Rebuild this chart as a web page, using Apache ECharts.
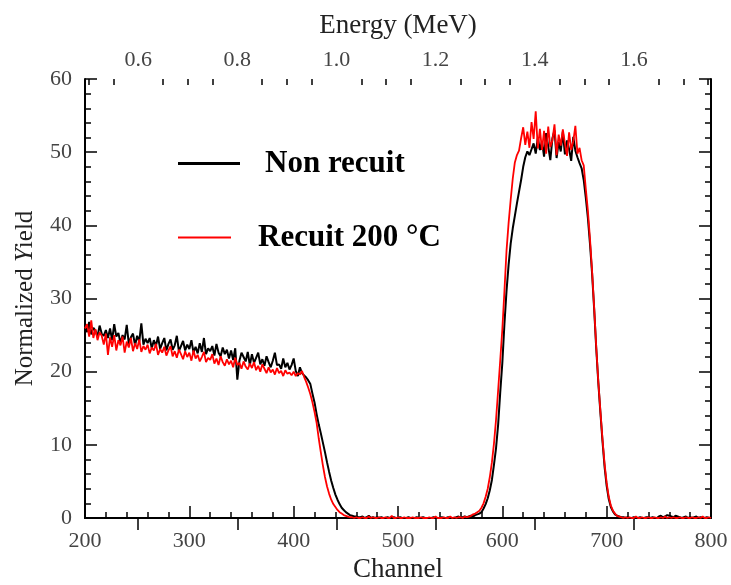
<!DOCTYPE html>
<html>
<head>
<meta charset="utf-8">
<script src="https://cdn.jsdelivr.net/npm/echarts@6/dist/echarts.min.js"></script>
<style>
html, body { margin: 0; padding: 0; background: #fff; }
#chart { width: 731px; height: 585px; }
</style>
</head>
<body>
<div id="chart"></div>
<script>
// channels 200..800, one value every 2 channels
var channelStart = 200;
var channelStep = 2;

var nonRecuit = [
    26.2, 25.4, 26.8, 25.1, 26.0, 25.6, 24.8, 26.3, 25.2, 24.9,
    25.7, 24.6, 25.9, 24.3, 26.5, 24.8, 25.3, 23.9, 25.0, 24.4,
    26.4, 23.8, 24.7, 25.2, 23.6, 24.9, 24.1, 26.6, 23.7, 24.5,
    23.9, 24.6, 23.2, 24.3, 23.5, 24.8, 23.1, 23.9, 24.6, 22.9,
    23.8, 24.4, 23.0, 23.6, 24.9, 22.8, 23.5, 24.2, 22.9, 23.7,
    23.1, 24.3, 22.6, 23.4, 22.5, 23.9, 22.7, 24.6, 22.4, 23.2,
    22.8, 23.5, 22.2, 23.8, 22.6, 22.1, 23.3, 22.4, 23.0, 21.8,
    22.9, 21.6, 23.2, 18.9, 21.5, 22.6, 22.0, 21.4, 22.7, 20.9,
    22.4, 21.2, 21.9, 22.6, 21.0, 21.7, 20.8, 22.1, 21.3, 20.6,
    21.5, 22.6, 20.9, 21.0, 20.4, 21.8, 20.6, 21.2, 20.3, 20.9,
    21.8, 20.1, 19.4, 20.6, 19.8, 19.5, 19.2, 18.8, 18.3, 17.0,
    15.8, 14.2, 12.8, 11.6, 10.3, 9.0, 7.6, 6.3, 5.1, 4.1,
    3.2, 2.5, 1.9, 1.4, 1.1, 0.8, 0.6, 0.4, 0.3, 0.2,
    0.2, 0.1, 0.1, 0.2, 0.0, 0.1, 0.3, 0.0, 0.1, 0.0,
    0.1, 0.0, 0.1, 0.0, 0.0, 0.1, 0.0, 0.0, 0.1, 0.0,
    0.0, 0.1, 0.0, 0.0, 0.0, 0.1, 0.0, 0.0, 0.0, 0.1,
    0.0, 0.0, 0.1, 0.0, 0.0, 0.0, 0.0, 0.1, 0.0, 0.0,
    0.0, 0.1, 0.0, 0.0, 0.1, 0.0, 0.0, 0.0, 0.1, 0.2,
    0.0, 0.1, 0.2, 0.1, 0.2, 0.3, 0.2, 0.4, 0.5, 0.6,
    0.8, 1.3, 1.9, 2.7, 3.8, 5.2, 7.3, 9.6, 12.8, 17.2,
    21.2, 26.5, 31.0, 34.6, 37.5, 39.6, 41.3, 43.0, 44.6, 46.2,
    48.0, 49.3, 50.1, 49.6, 50.4, 51.2, 49.8, 52.0, 50.3, 51.5,
    49.4, 52.6, 50.8, 48.9, 51.9, 53.0, 49.2, 51.4, 50.1, 52.8,
    49.7, 51.6, 50.4, 48.8, 52.1, 50.2, 49.3, 48.5, 47.8, 46.2,
    43.8, 41.0, 37.5, 33.5, 28.6, 23.2, 18.5, 14.4, 10.5, 7.0,
    4.4, 2.6, 1.5, 0.9, 0.5, 0.3, 0.2, 0.1, 0.1, 0.0,
    0.1, 0.0, 0.0, 0.1, 0.0, 0.0, 0.1, 0.0, 0.0, 0.1,
    0.1, 0.0, 0.1, 0.0, 0.0, 0.2, 0.3, 0.1, 0.2, 0.4,
    0.3, 0.2, 0.1, 0.3, 0.2, 0.1, 0.0, 0.1, 0.2, 0.0,
    0.1, 0.0, 0.1, 0.2, 0.0, 0.1, 0.0, 0.0, 0.1, 0.0,
    0.0
];

var recuit200 = [
    25.9, 26.5, 24.8, 27.0, 24.6, 25.8, 24.3, 25.4, 24.9, 23.7,
    25.2, 22.3, 24.7, 23.4, 25.0, 22.9, 24.3, 23.6, 24.8, 22.6,
    24.1, 23.3, 24.6, 22.8, 23.9, 23.1, 24.4, 22.7, 23.5, 23.0,
    23.7, 22.5, 23.3, 22.9, 23.8, 22.3, 23.1, 22.6, 23.4, 22.2,
    22.9, 23.5, 22.1, 22.8, 21.9, 23.0, 22.4, 21.7, 22.8, 22.0,
    22.6, 21.5, 22.9, 21.8, 22.3, 21.4, 22.0, 22.7, 21.3, 21.9,
    21.6, 22.4, 21.1, 21.8, 20.9, 22.1, 21.3, 20.8, 21.7, 21.0,
    21.5, 20.6, 21.9, 20.9, 21.2, 20.4, 21.4, 20.7, 20.3, 21.1,
    20.5, 21.3, 20.2, 20.8, 20.0, 21.0, 20.4, 19.8, 20.6, 19.9,
    20.3, 19.6, 20.5, 19.8, 20.1, 19.4, 20.2, 19.7, 19.9, 19.5,
    20.0, 19.4, 19.8, 19.6, 20.1, 19.3, 18.6, 17.8, 16.9, 15.8,
    14.5, 13.0, 10.9, 9.0, 7.2, 5.6, 4.3, 3.3, 2.5, 1.9,
    1.5, 1.1, 0.8, 0.6, 0.4, 0.3, 0.2, 0.1, 0.1, 0.0,
    0.1, 0.0, 0.0, 0.1, 0.0, 0.0, 0.2, 0.0, 0.1, 0.0,
    0.0, 0.1, 0.0, 0.0, 0.1, 0.0, 0.0, 0.3, 0.0, 0.0,
    0.1, 0.0, 0.0, 0.1, 0.0, 0.0, 0.0, 0.1, 0.0, 0.0,
    0.0, 0.1, 0.0, 0.0, 0.0, 0.1, 0.0, 0.0, 0.2, 0.0,
    0.0, 0.0, 0.1, 0.0, 0.0, 0.2, 0.0, 0.1, 0.0, 0.1,
    0.1, 0.0, 0.2, 0.1, 0.2, 0.3, 0.5, 0.6, 0.8, 1.0,
    1.4, 2.0, 2.9, 4.0, 5.6, 7.6, 10.2, 13.5, 17.5, 21.6,
    25.8, 31.0, 36.5, 40.3, 43.5, 46.4, 48.6, 49.6, 50.2, 51.9,
    53.4, 51.0, 52.8, 50.6, 54.1, 51.8, 55.6, 50.5, 53.2, 50.3,
    52.9, 49.8, 53.5, 50.7, 51.6, 53.8, 49.6, 52.4, 50.9, 53.1,
    51.2, 49.5, 52.7, 50.3, 51.5, 53.6, 49.8, 50.6, 48.9, 48.2,
    45.0, 42.0, 38.2, 33.8, 28.8, 23.4, 18.6, 14.6, 10.8, 7.4,
    4.8, 2.9, 1.7, 1.0, 0.6, 0.3, 0.2, 0.1, 0.0, 0.1,
    0.0, 0.1, 0.0, 0.0, 0.2, 0.0, 0.0, 0.1, 0.0, 0.0,
    0.1, 0.0, 0.0, 0.1, 0.0, 0.0, 0.1, 0.0, 0.2, 0.0,
    0.1, 0.0, 0.1, 0.0, 0.0, 0.1, 0.0, 0.0, 0.1, 0.0,
    0.0, 0.1, 0.0, 0.0, 0.1, 0.0, 0.2, 0.0, 0.0, 0.1,
    0.0
];

// energy calibration of the top axis
var energyAt200 = 0.4926;
var mevPerChannel = 0.002105;
var energyMajor = [0.6, 0.8, 1.0, 1.2, 1.4, 1.6];
var energyMinor = [0.5, 0.55, 0.65, 0.7, 0.75, 0.85, 0.9, 0.95, 1.05, 1.1, 1.15,
    1.25, 1.3, 1.35, 1.45, 1.5, 1.55, 1.65, 1.7, 1.75];

var FONT = 'Liberation Serif';

function energyToChannel(e) {
    return 200 + (e - energyAt200) / mevPerChannel;
}
function toPairs(arr) {
    return arr.map(function (v, i) { return [channelStart + i * channelStep, v]; });
}

var myChart = echarts.init(document.getElementById('chart'));

var tickStyle = { color: '#000', width: 1.5 };

var option = {
    animation: false,
    backgroundColor: '#fff',
    grid: { left: 85, right: 20, top: 79, bottom: 67, outerBoundsMode: 'none' },
    legend: [{
        data: ['Non recuit'],
        left: 178, top: 148, padding: 0,
        icon: 'rect', itemWidth: 62, itemHeight: 3,
        textStyle: { fontFamily: FONT, fontSize: 31, fontWeight: 'bold', color: '#000', padding: [0, 0, 0, 20] }
    }, {
        data: ['Recuit 200 °C'],
        left: 178, top: 222, padding: 0,
        icon: 'rect', itemWidth: 53, itemHeight: 2,
        textStyle: { fontFamily: FONT, fontSize: 31, fontWeight: 'bold', color: '#000', padding: [0, 0, 0, 22] }
    }],
    xAxis: [{
        type: 'value', position: 'bottom',
        min: 200, max: 800, interval: 100,
        name: 'Channel', nameLocation: 'middle', nameGap: 38,
        nameTextStyle: { fontFamily: FONT, fontSize: 27, color: '#222' },
        axisLine: { lineStyle: { color: '#000', width: 2 } },
        axisTick: { inside: true, length: 12, lineStyle: tickStyle },
        minorTick: { show: true, splitNumber: 5, length: 6, lineStyle: tickStyle },
        axisLabel: { fontFamily: FONT, fontSize: 22, color: '#444', margin: 12 },
        splitLine: { show: false }
    }, {
        type: 'value', position: 'top',
        min: 200, max: 800,
        name: 'Energy (MeV)', nameLocation: 'middle', nameGap: 40,
        nameTextStyle: { fontFamily: FONT, fontSize: 27, color: '#222' },
        axisLine: { lineStyle: { color: '#000', width: 2 } },
        axisTick: { inside: true, length: 12, lineStyle: tickStyle, customValues: energyMajor.map(energyToChannel) },
        axisLabel: {
            fontFamily: FONT, fontSize: 22, color: '#444', margin: 8,
            customValues: energyMajor.map(energyToChannel),
            formatter: function (v) { return (energyAt200 + (v - 200) * mevPerChannel).toFixed(1); }
        },
        splitLine: { show: false }
    }, {
        type: 'value', position: 'top',
        min: 200, max: 800,
        axisLine: { show: false },
        axisTick: { inside: true, length: 6, lineStyle: tickStyle, customValues: energyMinor.map(energyToChannel) },
        axisLabel: { show: false },
        splitLine: { show: false }
    }],
    yAxis: [{
        type: 'value', position: 'left',
        min: 0, max: 60, interval: 10,
        name: '{a|Normalized }{b|Y}{a|ield}', nameLocation: 'middle', nameGap: 47,
        nameTextStyle: {
            fontFamily: FONT, fontSize: 25, color: '#222',
            rich: {
                a: { fontFamily: FONT, fontSize: 25, color: '#222' },
                b: { fontFamily: FONT, fontSize: 25, color: '#222', fontStyle: 'italic' }
            }
        },
        axisLine: { show: true, lineStyle: { color: '#000', width: 2 } },
        axisTick: { show: true, inside: true, length: 12, lineStyle: tickStyle },
        minorTick: { show: true, splitNumber: 5, length: 6, lineStyle: tickStyle },
        axisLabel: { fontFamily: FONT, fontSize: 22, color: '#444', margin: 13 },
        splitLine: { show: false }
    }, {
        type: 'value', position: 'right',
        min: 0, max: 60, interval: 10,
        axisLine: { show: true, lineStyle: { color: '#000', width: 2 } },
        axisTick: { show: true, inside: true, length: 12, lineStyle: tickStyle },
        minorTick: { show: true, splitNumber: 5, length: 6, lineStyle: tickStyle },
        axisLabel: { show: false },
        splitLine: { show: false }
    }],
    series: [{
        name: 'Non recuit',
        type: 'line',
        xAxisIndex: 0, yAxisIndex: 0,
        symbol: 'none',
        color: '#000',
        lineStyle: { color: '#000', width: 2 },
        data: toPairs(nonRecuit)
    }, {
        name: 'Recuit 200 °C',
        type: 'line',
        xAxisIndex: 0, yAxisIndex: 0,
        symbol: 'none',
        color: '#ff0000',
        lineStyle: { color: '#ff0000', width: 1.8 },
        data: toPairs(recuit200)
    }]
};

myChart.setOption(option);
</script>
</body>
</html>
